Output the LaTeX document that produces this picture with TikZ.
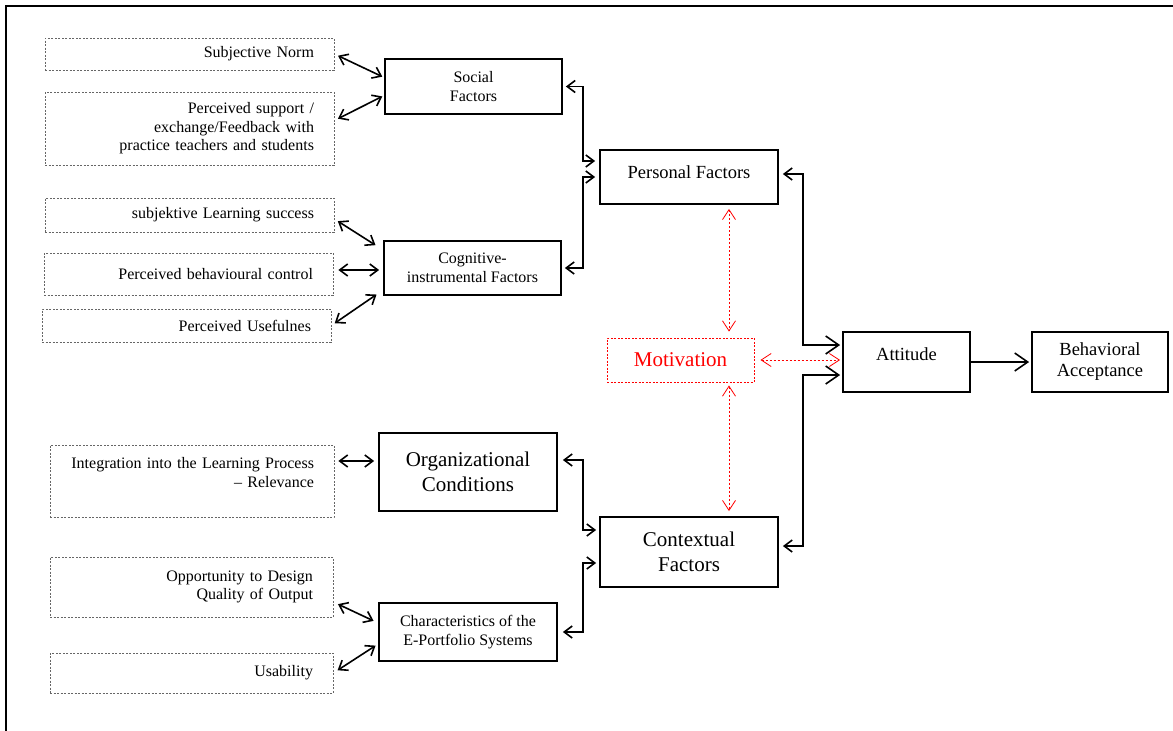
\documentclass[tikz,border=0pt]{standalone}
\usepackage{fontspec}
\setmainfont{Liberation Serif}
\usetikzlibrary{arrows.meta}

\newcommand{\smallfont}{\fontsize{16}{18.5}\selectfont}
\newcommand{\midfont}{\fontsize{18.5}{21}\selectfont}
\newcommand{\bigfont}{\fontsize{21}{24.5}\selectfont}

\begin{document}
\begin{tikzpicture}[x=1pt, y=-1pt,
        cue/.style={draw=black!60, dash pattern=on 2pt off 1.5pt, line width=0.8pt, inner xsep=20pt, align=right, font=\smallfont},
        box/.style={draw, line width=1.8pt, inner sep=2pt},
        link/.style={line width=1.6pt, >={Straight Barb[length=8pt,width=12pt]}, <->},
        mixlink/.style={line width=1.6pt, {Straight Barb[length=8pt,width=12pt]}-{Straight Barb[length=13pt,width=18pt]}},
        biglink/.style={line width=1.6pt, -{Straight Barb[length=13pt,width=18pt]}},
        motlink/.style={red, line width=0.8pt, dash pattern=on 2pt off 2pt, >={Straight Barb[length=10pt,width=13pt]}, <->}]
    \useasboundingbox (0,0) rectangle (1173,731);

    % Frame (cut at right and bottom)
    \draw[line width=2.4pt] (6,731) -- (6,6) -- (1173,6);

    % Dashed items on the left
    \node[cue, text width=249pt, minimum height=32pt] (subnorm) at (189.5,54) {Subjective Norm};
    \node[cue, text width=249pt, minimum height=73pt] (support) at (189.5,128.5) {Perceived support /\\ exchange/Feedback with\\ practice teachers and students};
    \node[cue, text width=249pt, minimum height=34pt] (success) at (189.5,215) {subjektive Learning success};
    \node[cue, text width=249pt, minimum height=42pt] (control) at (188.5,274) {Perceived behavioural control};
    \node[cue, text width=249pt, minimum height=33pt] (useful) at (186.5,325.5) {Perceived Usefulnes};
    \node[cue, text width=244pt, minimum height=72pt, text height=11.5pt, text depth=36pt] (integr) at (192,481) {Integration into the Learning Process\\ – Relevance};
    \node[cue, text width=243pt, minimum height=60pt] (design) at (191.5,587) {Opportunity to Design\\ Quality of Output};
    \node[cue, text width=243pt, minimum height=40pt] (usab) at (191.5,673) {Usability};

    % Factor boxes
    \node[box, font=\smallfont, align=center, minimum width=177pt, minimum height=55pt] (social) at (473.5,86.5) {Social\\ Factors};
    \node[box, font=\smallfont, align=center, minimum width=177pt, minimum height=54pt] (cogn) at (472.5,268) {Cognitive-\\ instrumental Factors};
    \node[box, font=\midfont, minimum width=178pt, minimum height=54pt, text height=13pt, text depth=11pt] (personal) at (689,177) {Personal Factors};
    \node[box, font=\midfont, minimum width=127pt, minimum height=60pt, text height=13pt, text depth=17pt] (attitude) at (906.5,362) {Attitude};
    \node[box, font=\midfont, align=center, minimum width=136pt, minimum height=60pt] (accept) at (1100,362) {Behavioral\\ Acceptance};
    \node[box, font=\bigfont, align=center, minimum width=178pt, minimum height=78pt] (orgcond) at (468,472) {Organizational\\ Conditions};
    \node[box, font=\bigfont, align=center, minimum width=178pt, minimum height=70pt] (context) at (689,552) {Contextual\\ Factors};
    \node[box, font=\smallfont, align=center, minimum width=178pt, minimum height=58pt] (system) at (468,632) {Characteristics of the\\ E-Portfolio Systems};
    \node[draw=red, dash pattern=on 2pt off 1.5pt, line width=0.9pt, text=red, font=\bigfont, minimum width=147pt, minimum height=44pt] (motiv) at (680.5,360) {Motivation};

    % Bus lines
    \coordinate (pbus) at (583,0);
    \coordinate (abus) at (803,0);
    \coordinate (mbus) at (729,0);

    % Items to factors
    \draw[link, shorten <=4pt, shorten >=2pt] (subnorm.east) -- ([yshift=9pt]social.west);
    \draw[link, shorten <=4pt, shorten >=2pt] ([yshift=8pt]support.east) -- ([yshift=-9pt]social.west);
    \draw[link, shorten <=4pt, shorten >=9pt] ([yshift=-4pt]success.east) -- ([yshift=18pt]cogn.west);
    \draw[link, shorten <=5pt, shorten >=4pt] ([yshift=4pt]control.east) -- ([yshift=-2pt]cogn.west);
    \draw[link, shorten <=4pt, shorten >=8pt] (useful.east) -- ([yshift=-22pt]cogn.west);
    \draw[link, shorten <=4pt, shorten >=4pt] ([yshift=20pt]integr.east) -- ([yshift=11pt]orgcond.west);
    \draw[link, shorten <=5pt, shorten >=5pt] ([yshift=-15pt]design.east) -- ([yshift=9pt]system.west);
    \draw[link, shorten <=5pt, shorten >=3pt] (usab.east) -- ([yshift=-12pt]system.west);

    % Factors to personal / contextual factors
    \draw[link, shorten <=3pt, shorten >=4pt] (social.east) -- (social.east -| pbus) |- ([yshift=16pt]personal.west);
    \draw[link, shorten <=3pt, shorten >=4pt] (cogn.east) -- (cogn.east -| pbus) |- (personal.west);
    \draw[link, shorten <=5pt, shorten >=3pt] ([yshift=12pt]orgcond.east) -- ([yshift=12pt]orgcond.east -| pbus) |- ([yshift=22pt]context.west);
    \draw[link, shorten <=5pt, shorten >=3pt] (system.east) -- (system.east -| pbus) |- ([yshift=-11pt]context.west);

    % To attitude and acceptance
    \draw[mixlink, shorten <=4pt, shorten >=2pt] ([yshift=3pt]personal.east) -- ([yshift=3pt]personal.east -| abus) |- ([yshift=17pt]attitude.west);
    \draw[mixlink, shorten <=4pt, shorten >=2pt] ([yshift=6pt]context.east) -- ([yshift=6pt]context.east -| abus) |- ([yshift=-13pt]attitude.west);
    \draw[biglink, shorten >=2pt] (attitude.east) -- (attitude.east -| accept.west);

    % Motivation (red, dotted)
    \draw[motlink, shorten <=4pt, shorten >=6pt] (personal.south -| mbus) -- (motiv.north -| mbus);
    \draw[motlink, shorten <=3pt, shorten >=5pt] (motiv.south -| mbus) -- (context.north -| mbus);
    \draw[motlink, shorten <=6pt, shorten >=2pt] (motiv.east) -- (motiv.east -| attitude.west);
\end{tikzpicture}
\end{document}
